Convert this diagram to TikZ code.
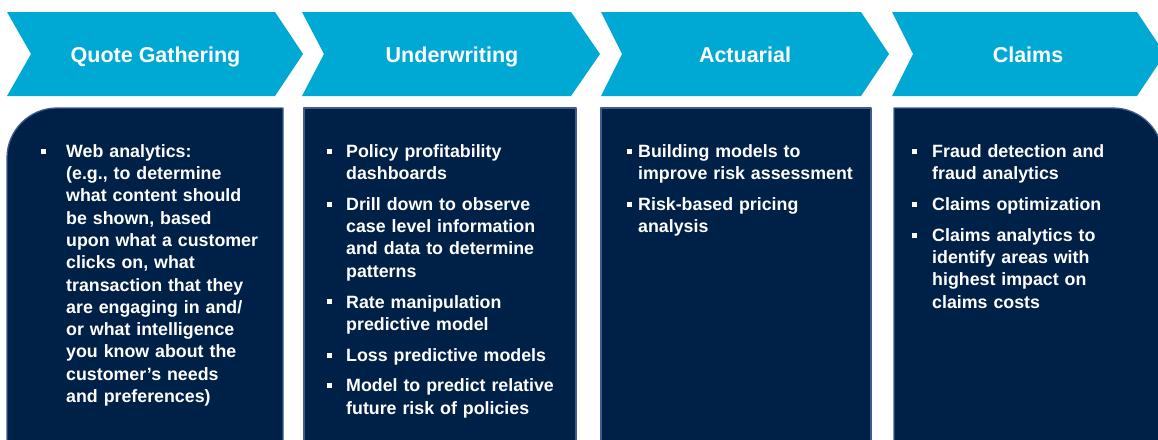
\documentclass[tikz,border=0pt]{standalone}
\usepackage{fontspec}
\setmainfont{Liberation Sans}
\usetikzlibrary{positioning}
\definecolor{qqaadd}{rgb}{0.,0.659,0.831}
\definecolor{qqzzhh}{rgb}{0.,0.129,0.278}
\definecolor{zzffcc}{rgb}{0.247,0.361,0.553}
\newcommand{\sqbul}{\rule[3.6pt]{5pt}{5pt}}
\newcommand{\bitem}[2][14pt]{\noindent\llap{\sqbul\hspace{#1}}\strut#2\par}

\begin{document}
\begin{tikzpicture}[line cap=round,line join=round,x=1pt,y=-1pt,
  chev/.style={fill=qqaadd},
  boxfill/.style={fill=qqzzhh,draw=zzffcc,line width=1.3pt},
  head/.style={text=white,anchor=base,inner sep=0pt,font=\bfseries\fontsize{21.5}{26}\selectfont},
  body/.style={text=white,anchor=north west,inner sep=0pt,text width=240pt,align=left,
    font=\bfseries\fontsize{17.8}{22.3}\selectfont}]
\useasboundingbox (0,0) rectangle (1158,439);
\clip (0,0) rectangle (1158,439);
\fill [white] (0,0) rectangle (1158,439);
\fill [chev] (7,12) -- (275,12) -- (303,54) -- (275,96) -- (7,96) -- (31,54) -- cycle;
\fill [chev] (302,12) -- (571,12) -- (600,54) -- (571,96) -- (302,96) -- (324,54) -- cycle;
\fill [chev] (601,12) -- (861,12) -- (889,54) -- (861,96) -- (601,96) -- (622,54) -- cycle;
\fill [chev] (892,12) -- (1137,12) -- (1165,54) -- (1137,96) -- (892,96) -- (913,54) -- cycle;
\node [head] (hquote) at (155.5,62) {Quote Gathering};
\node [head] (hunder) at (452,62) {Underwriting};
\node [head] (hactu) at (745,62) {Actuarial};
\node [head] (hclaim) at (1028,62) {Claims};
\draw [boxfill] (7,470) -- (7,158) arc[start angle=180,end angle=270,radius=50] -- (283,108) -- (283,470) -- cycle;
\draw [boxfill] (304,470) -- (304,108) -- (576,108) -- (576,470) -- cycle;
\draw [boxfill] (601,470) -- (601,108) -- (871,108) -- (871,470) -- cycle;
\draw [boxfill] (894,470) -- (894,108) -- (1113,108) arc[start angle=270,end angle=360,radius=50] -- (1163,470) -- cycle;
\node [body] (tquote) at (66,141.4) {\setlength{\parskip}{8.5pt}%
\bitem[20pt]{Web analytics:\newline (e.g., to determine\newline what content should\newline be shown, based\newline upon what a customer\newline clicks on, what\newline transaction that they\newline are engaging in and/\newline or what intelligence\newline you know about the\newline customer’s needs\newline and preferences)}};
\node [body] (tunder) at (346,141.4) {\setlength{\parskip}{8.5pt}%
\bitem[14pt]{Policy profitability\newline dashboards}
\bitem[14pt]{Drill down to observe\newline case level information\newline and data to determine\newline patterns}
\bitem[14pt]{Rate manipulation\newline predictive model}
\bitem[14pt]{Loss predictive models}
\bitem[14pt]{Model to predict relative\newline future risk of policies}};
\node [body] (tactu) at (638,141.4) {\setlength{\parskip}{8.5pt}%
\bitem[6pt]{Building models to\newline improve risk assessment}
\bitem[6pt]{Risk-based pricing\newline analysis}};
\node [body] (tclaim) at (932,141.4) {\setlength{\parskip}{8.5pt}%
\bitem[15pt]{Fraud detection and\newline fraud analytics}
\bitem[15pt]{Claims optimization}
\bitem[15pt]{Claims analytics to\newline identify areas with\newline highest impact on\newline claims costs}};
\end{tikzpicture}
\end{document}
